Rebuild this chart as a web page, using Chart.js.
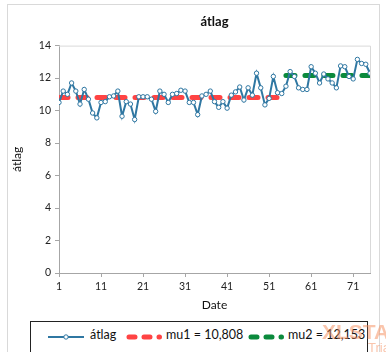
<!DOCTYPE html>
<html>
<head>
<meta charset="utf-8">
<script src="https://cdn.jsdelivr.net/npm/chart.js@4/dist/chart.umd.min.js"></script>
<style>
  html, body { margin: 0; padding: 0; background: #fff; }
  #wrap { position: relative; width: 386px; height: 352px; overflow: hidden; font-family: Lato, "Open Sans", sans-serif; }
  #frame { position: absolute; left: 7px; top: 4px; width: 373px; height: 360px; border: 1px solid #d9d9d9; box-sizing: border-box; }
  canvas { position: absolute; left: 0; top: 0; }
  #legend { position: absolute; left: 30px; top: 321px; width: 338px; height: 32px; border: 1px solid #222; box-sizing: border-box; background: #fff; }
  .item { position: absolute; top: 5px; font-size: 12.5px; color: #111; white-space: nowrap; line-height: 16px; }
  .item span { position: absolute; top: 0; }
  #wm { position: absolute; left: 322px; top: 320px; color: rgba(245, 140, 90, 0.5); font: bold 21px "Liberation Sans", sans-serif; }
  #wm2 { position: absolute; left: 368px; top: 340px; color: rgba(245, 140, 90, 0.5); font: 13px "Liberation Sans", sans-serif; }
</style>
</head>
<body>
<div id="wrap">
  <div id="frame"></div>
  <canvas id="c" width="386" height="352"></canvas>
  <div id="legend"></div>
  <div id="wm">XLSTAT</div>
  <div id="wm2">Trial</div>
</div>
<script>
// daily "átlag" values, one per date index starting at 1
const dates = [];
const atlag = [
  10.5, 11.2, 11.0, 11.7, 11.2, 10.4, 11.3, 10.7, 9.85, 9.55,
  10.5, 10.55, 10.85, 10.9, 11.2, 9.65, 10.55, 10.4, 9.45, 10.85,
  10.85, 10.85, 10.7, 9.95, 11.2, 11.0, 10.5, 11.0, 11.05, 11.25,
  11.2, 10.5, 10.5, 9.75, 10.9, 11.0, 11.2, 10.55, 10.2, 10.55,
  10.15, 10.95, 11.15, 11.45, 10.65, 11.4, 10.95, 12.3, 11.4, 10.35,
  10.75, 12.1, 11.1, 11.05, 11.5, 12.4, 12.1, 11.4, 11.3, 11.3,
  12.7, 12.3, 11.7, 12.25, 11.95, 11.7, 11.4, 12.75, 12.7, 12.1,
  11.95, 13.15, 12.9, 12.85, 12.3
];
for (let i = 0; i < atlag.length; i++) dates.push(i + 1);

// segment means and the date ranges they cover
const mu1 = 10.808;
const mu1Range = [1, 54];
const mu2 = 12.153;
const mu2Range = [55, 75];

const xTickValues = [1, 11, 21, 31, 41, 51, 61, 71];
const yTickMin = 0, yTickMax = 14, yTickStep = 2;

const BLUE = '#2f77a2';
const RED = '#ff4343';
const GREEN = '#0b8a3c';
const FONT = 'Lato, "Open Sans", sans-serif';

const fmt = v => v.toFixed(3).replace('.', ',');
const seriesNames = ['átlag', 'mu1 = ' + fmt(mu1), 'mu2 = ' + fmt(mu2)];

// light frame along the top and right of the plot area
const plotFrame = {
  id: 'plotFrame',
  beforeDatasetsDraw(chart) {
    const { ctx, chartArea: a } = chart;
    ctx.save();
    ctx.strokeStyle = '#d9d9d9';
    ctx.lineWidth = 1;
    ctx.beginPath();
    ctx.moveTo(a.left, a.top + 0.5);
    ctx.lineTo(a.right + 0.5, a.top + 0.5);
    ctx.lineTo(a.right + 0.5, a.bottom);
    ctx.stroke();
    ctx.restore();
  }
};

new Chart(document.getElementById('c'), {
  type: 'line',
  data: {
    datasets: [
      {
        label: seriesNames[0],
        data: atlag.map((v, i) => ({ x: dates[i], y: v })),
        borderColor: BLUE,
        borderWidth: 2,
        pointRadius: 2.2,
        pointBorderWidth: 1,
        pointBackgroundColor: '#fff',
        pointBorderColor: BLUE,
        tension: 0,
        order: 0
      },
      {
        label: seriesNames[1],
        data: [{ x: mu1Range[0], y: mu1 }, { x: mu1Range[1], y: mu1 }],
        borderColor: RED,
        borderWidth: 5,
        borderDash: [9, 10],
        borderCapStyle: 'round',
        pointRadius: 0,
        order: 1
      },
      {
        label: seriesNames[2],
        data: [{ x: mu2Range[0], y: mu2 }, { x: mu2Range[1], y: mu2 }],
        borderColor: GREEN,
        borderWidth: 5,
        borderDash: [9, 10],
        borderCapStyle: 'round',
        pointRadius: 0,
        order: 1
      }
    ]
  },
  options: {
    responsive: false,
    animation: false,
    layout: { padding: { left: 8, right: 16, top: 8, bottom: 40 } },
    plugins: {
      legend: { display: false },
      tooltip: { enabled: false },
      title: {
        display: true,
        text: 'átlag',
        fullSize: false,
        color: '#111',
        font: { family: FONT, size: 13, weight: 'bold' },
        padding: { top: 6, bottom: 16 }
      }
    },
    scales: {
      x: {
        type: 'linear',
        min: 1,
        max: 75,
        afterBuildTicks: s => { s.ticks = xTickValues.map(v => ({ value: v })); },
        afterFit: s => { s.height = 39; },
        border: { color: '#a6a6a6' },
        grid: { drawOnChartArea: false, tickLength: 4, color: '#a6a6a6' },
        ticks: { color: '#222', font: { family: FONT, size: 10.5 }, padding: 3, maxRotation: 0 },
        title: { display: true, text: 'Date', color: '#111', font: { family: FONT, size: 12 }, padding: { top: 2, bottom: 0 } }
      },
      y: {
        min: yTickMin,
        max: yTickMax,
        afterFit: s => { s.width = 51; },
        border: { color: '#a6a6a6' },
        grid: { drawOnChartArea: false, tickLength: 4, color: '#a6a6a6' },
        ticks: { stepSize: yTickStep, color: '#222', font: { family: FONT, size: 10.5 }, padding: 4 },
        title: { display: true, text: 'átlag', color: '#111', font: { family: FONT, size: 12 }, padding: { top: 2, bottom: 0 } }
      }
    }
  },
  plugins: [plotFrame]
});

// legend entries below the chart
const legend = document.getElementById('legend');
const dashSample = c => '<svg width="38" height="10"><line x1="3" y1="5" x2="33.5" y2="5" stroke="' + c + '" stroke-width="5" stroke-dasharray="6 9" stroke-linecap="round"/></svg>';
const entries = [
  { name: seriesNames[0], left: 17, textLeft: 59, svg: '<svg width="36" height="10"><line x1="0" y1="5" x2="36" y2="5" stroke="' + BLUE + '" stroke-width="2"/><circle cx="18" cy="5" r="2.2" fill="#fff" stroke="' + BLUE + '" stroke-width="1"/></svg>' },
  { name: seriesNames[1], left: 95, textLeft: 135, svg: dashSample(RED) },
  { name: seriesNames[2], left: 217, textLeft: 257, svg: dashSample(GREEN) }
];
entries.forEach(e => {
  const d = document.createElement('div');
  d.className = 'item';
  d.style.left = '0px';
  d.innerHTML = '<div style="position:absolute;left:' + e.left + 'px;top:3px">' + e.svg + '</div><span style="left:' + e.textLeft + 'px">' + e.name + '</span>';
  legend.appendChild(d);
});
</script>
</body>
</html>
